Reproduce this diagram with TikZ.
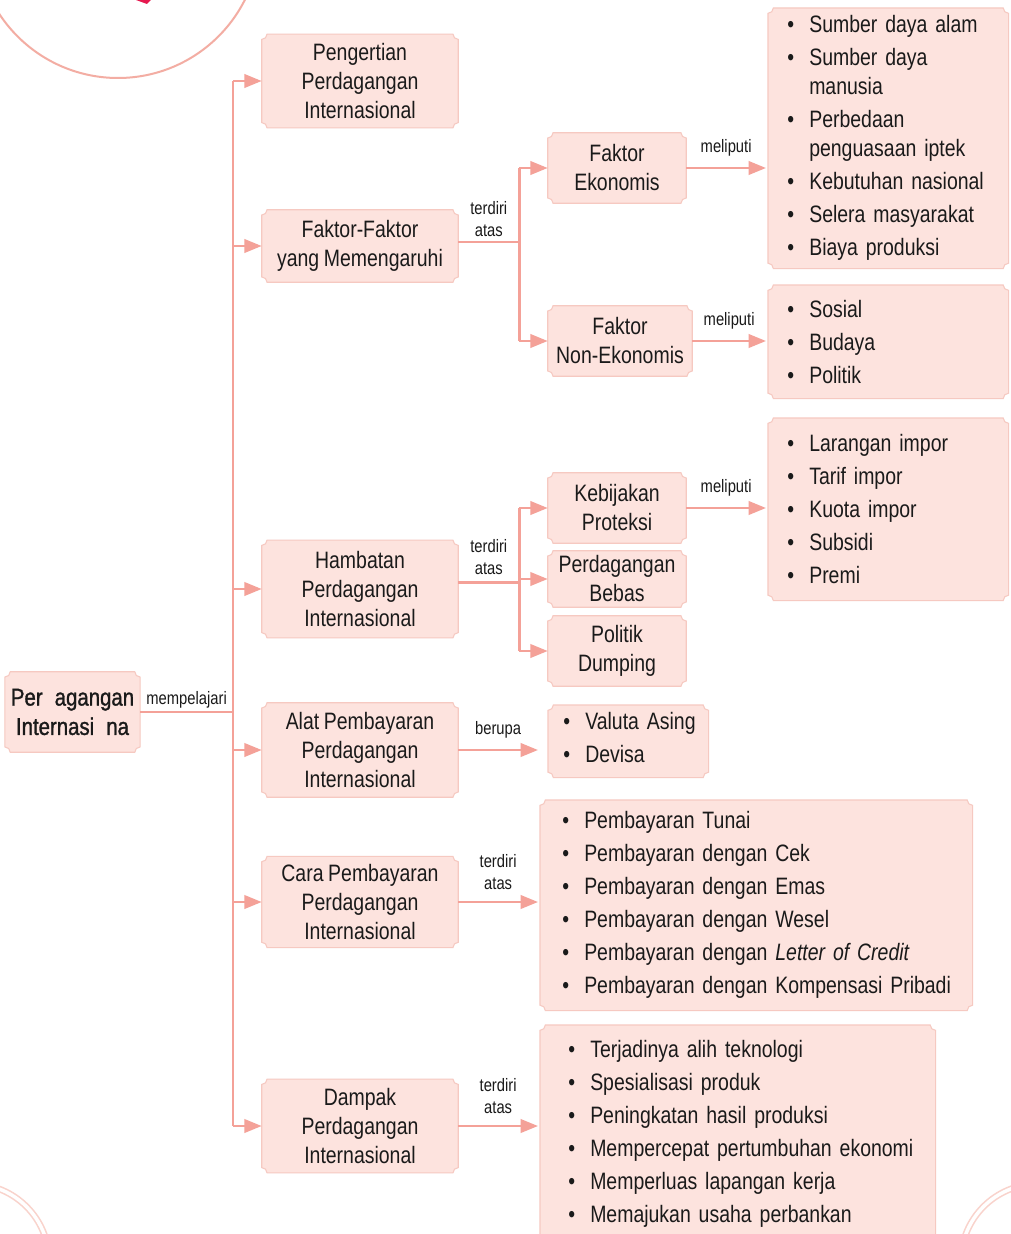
\documentclass[tikz,border=0pt]{standalone}
\usepackage{fontspec}
\setmainfont{Liberation Sans}[FakeStretch=0.82,WordSpace=0.85]
\newfontfamily\heavyfont{Liberation Sans}[FakeStretch=0.84,FakeBold=1.2]
\usetikzlibrary{arrows.meta,positioning,calc,backgrounds}
\definecolor{boxfill}{HTML}{FDE3DE}
\definecolor{boxline}{HTML}{F6C9C1}
\definecolor{wirecol}{HTML}{F4A198}
\definecolor{ring}{HTML}{F3ADA3}
\definecolor{ringsoft}{HTML}{F9D3CC}
\definecolor{accent}{HTML}{E6194F}
\definecolor{ink}{HTML}{1A1A1A}
\newcommand{\itm}[1]{\makebox[16.5pt][l]{\textbullet}\mbox{#1}}
\newcommand{\cnt}[1]{\hspace*{16.5pt}\mbox{#1}}
\tikzset{
  >={Triangle[length=13pt,width=10pt]},
  every node/.style={text=ink},
  box/.style={align=center,inner sep=0pt,minimum width=147pt,font=\fontsize{17.8pt}{21.75pt}\selectfont},
  subbox/.style={box,minimum width=103.5pt,minimum height=52.5pt},
  listbox/.style={align=left,anchor=north west,inner ysep=0pt,font=\fontsize{17.8pt}{21.75pt}\selectfont},
  plaque/.style={fill=boxfill,draw=boxline,line width=0.8pt},
  lbl/.style={align=center,inner sep=2pt,font=\fontsize{13.5pt}{16.5pt}\selectfont},
  wire/.style={draw=wirecol,line width=2pt},
  arrow/.style={wire,->},
}

\begin{document}
\begin{tikzpicture}[x=0.75pt,y=-0.75pt]
\useasboundingbox (0,0) rectangle (1010,1234);
\begin{scope}[on background layer]
\fill[white] (0,0) rectangle (1010,1234);
\end{scope}

% ---------- corner decoration ----------
\draw[ring,line width=1.5pt] (118,-64) circle[radius=142];
\fill[accent] (136,0) -- (151,0) -- (147,4) -- cycle;
\draw[ringsoft,line width=1.2pt,double=white,double distance=2.6pt] (-28,1261) circle[radius=77];
\draw[ringsoft,line width=1.2pt,double=white,double distance=2.6pt] (1038,1261) circle[radius=77];

% ---------- main topic ----------
\node[box,minimum width=101pt,minimum height=60pt,font=\heavyfont\fontsize{18.2pt}{22pt}\selectfont] (main) at (72.5,712) {Per\hspace{0.5em}agangan\\Internasi\hspace{0.5em}na};

% ---------- first level ----------
\node[box,minimum height=70pt] (pengertian) at (360,81) {Pengertian\\Perdagangan\\Internasional};
\node[box,minimum height=54pt] (faktor) at (360,246) {Faktor-Faktor\\yang Memengaruhi};
\node[box,minimum height=73pt] (hambatan) at (360,589) {Hambatan\\Perdagangan\\Internasional};
\node[box,minimum height=70.5pt] (alat) at (360,750) {Alat Pembayaran\\Perdagangan\\Internasional};
\node[box,minimum height=68pt] (cara) at (360,902) {Cara Pembayaran\\Perdagangan\\Internasional};
\node[box,minimum height=70pt] (dampak) at (360,1126) {Dampak\\Perdagangan\\Internasional};

\draw[wire] (main.east) -- node[lbl,above] (lmain) {mempelajari} ++(93,0) coordinate (trunk);
\draw[wire] (trunk |- pengertian.west) -- (trunk |- dampak.west);
\foreach \n in {pengertian,faktor,hambatan,alat,cara,dampak} {\draw[arrow] (trunk |- \n.west) -- (\n.west);}

% ---------- second level ----------
\node[subbox] (ekonomis) at (617,168) {Faktor\\Ekonomis};
\node[subbox,minimum width=108pt] (nonekonomis) at (620,341) {Faktor\\Non-Ekonomis};
\node[subbox] (proteksi) at (617,508) {Kebijakan\\Proteksi};
\node[subbox,minimum height=42pt] (bebas) at (617,579) {Perdagangan\\Bebas};
\node[subbox] (dumping) at (617,651) {Politik\\Dumping};

\draw[wire] ([yshift=3pt]faktor.east) -- node[lbl,above=1pt] (lfaktor) {terdiri\\atas} ++(61,0) coordinate (forkA);
\draw[wire] (forkA |- ekonomis.west) -- (forkA |- nonekonomis.west);
\foreach \n in {ekonomis,nonekonomis} {\draw[arrow] (forkA |- \n.west) -- (\n.west);}

\draw[wire] ([yshift=5pt]hambatan.east) -- node[lbl,above=3pt] (lhambatan) {terdiri\\atas} ++(61,0) coordinate (forkB);
\draw[wire] (forkB |- proteksi.west) -- (forkB |- dumping.west);
\foreach \n in {proteksi,bebas,dumping} {\draw[arrow] (forkB |- \n.west) -- (\n.west);}

% ---------- lists ----------
\node[listbox,inner xsep=14.25pt,text width=151.5pt,minimum height=195pt] (ekolist) at (768,8)
  {\itm{Sumber daya alam}\\[3pt]\itm{Sumber daya}\\\cnt{manusia}\\[3pt]\itm{Perbedaan}\\\cnt{penguasaan iptek}\\[3pt]\itm{Kebutuhan nasional}\\[3pt]\itm{Selera masyarakat}\\[3pt]\itm{Biaya produksi}};
\node[listbox,inner xsep=14.25pt,text width=151.5pt,minimum height=84.75pt] (nonlist) at (768,285)
  {\itm{Sosial}\\[3pt]\itm{Budaya}\\[3pt]\itm{Politik}};
\node[listbox,inner xsep=14.25pt,text width=151.5pt,minimum height=136.5pt] (proteksilist) at (768,418)
  {\itm{Larangan impor}\\[3pt]\itm{Tarif impor}\\[3pt]\itm{Kuota impor}\\[3pt]\itm{Subsidi}\\[3pt]\itm{Premi}};
\node[listbox,inner xsep=11.25pt,text width=97.5pt,minimum height=54pt] (alatlist) at (548,705)
  {\itm{Valuta Asing}\\[3pt]\itm{Devisa}\vspace{6pt}};
\node[listbox,inner xsep=16.5pt,text width=291pt,minimum height=157.5pt] (caralist) at (540,800)
  {\itm{Pembayaran Tunai}\\[3pt]\itm{Pembayaran dengan Cek}\\[3pt]\itm{Pembayaran dengan Emas}\\[3pt]\itm{Pembayaran dengan Wesel}\\[3pt]\itm{Pembayaran dengan \textit{Letter of Credit}}\\[3pt]\itm{Pembayaran dengan Kompensasi Pribadi}};
\node[listbox,inner xsep=21pt,text width=254.25pt,minimum height=163.5pt] (dampaklist) at (540,1025)
  {\itm{Terjadinya alih teknologi}\\[3pt]\itm{Spesialisasi produk}\\[3pt]\itm{Peningkatan hasil produksi}\\[3pt]\itm{Mempercepat pertumbuhan ekonomi}\\[3pt]\itm{Memperluas lapangan kerja}\\[3pt]\itm{Memajukan usaha perbankan}};

\draw[arrow] (ekonomis.east) -- node[lbl,above=6pt] (lmeliA) {meliputi} ([xshift=-1.5pt]ekonomis.east -| ekolist.west);
\draw[arrow] (nonekonomis.east) -- node[lbl,above=6pt] (lmeliB) {meliputi} ([xshift=-1.5pt]nonekonomis.east -| nonlist.west);
\draw[arrow] (proteksi.east) -- node[lbl,above=6pt] (lmeliC) {meliputi} ([xshift=-1.5pt]proteksi.east -| proteksilist.west);
\draw[arrow] (alat.east) -- node[lbl,above=6pt] (lberupa) {berupa} ([xshift=-7.5pt]alat.east -| alatlist.west);
\draw[arrow] (cara.east) -- node[lbl,above=6pt] (lcara) {terdiri\\atas} ([xshift=-1.5pt]cara.east -| caralist.west);
\draw[arrow] (dampak.east) -- node[lbl,above=6pt] (ldampak) {terdiri\\atas} ([xshift=-1.5pt]dampak.east -| dampaklist.west);

% ---------- plaques behind the text ----------
\begin{scope}[on background layer]
\foreach \n in {main,pengertian,faktor,hambatan,alat,cara,dampak,ekonomis,nonekonomis,proteksi,bebas,dumping,ekolist,nonlist,proteksilist,alatlist,caralist,dampaklist} {
  \path[plaque] ([xshift=4pt]\n.north west) -- ([xshift=-4pt]\n.north east) arc[start angle=180,end angle=270,radius=4pt]
    -- ([yshift=4pt]\n.south east) arc[start angle=90,end angle=180,radius=4pt]
    -- ([xshift=4pt]\n.south west) arc[start angle=0,end angle=90,radius=4pt]
    -- ([yshift=-4pt]\n.north west) arc[start angle=270,end angle=360,radius=4pt] -- cycle;
}
\end{scope}

\end{tikzpicture}
\end{document}
